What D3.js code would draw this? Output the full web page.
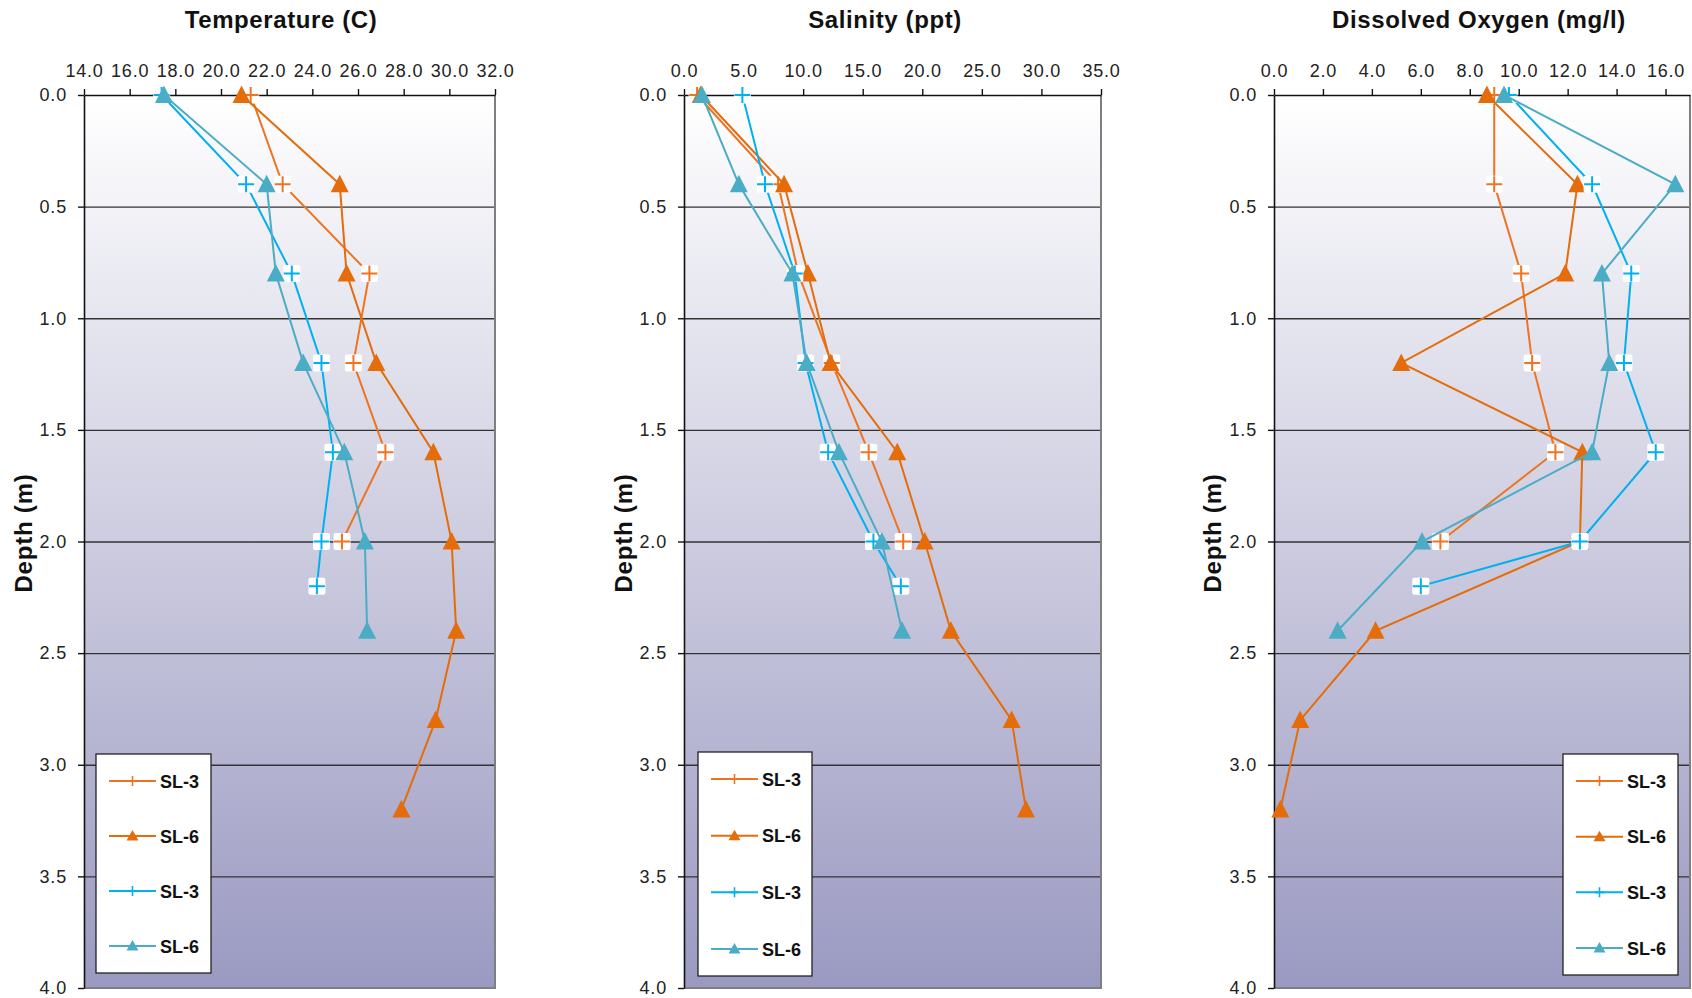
<!DOCTYPE html>
<html>
<head>
<meta charset="utf-8">
<script src="https://cdn.jsdelivr.net/npm/d3@7"></script>
<style>
  body { margin: 0; background: #fff; }
  svg { display: block; font-family: "Liberation Sans", Arial, sans-serif; }
</style>
</head>
<body>
<div id="chart"></div>
<script>
// depths (m) sampled for each station / run
const depthSL3a = [0, 0.4, 0.8, 1.2, 1.6, 2.0];
const depthSL6a = [0, 0.4, 0.8, 1.2, 1.6, 2.0, 2.4, 2.8, 3.2];
const depthSL3b = [0, 0.4, 0.8, 1.2, 1.6, 2.0, 2.2];
const depthSL6b = [0, 0.4, 0.8, 1.2, 1.6, 2.0, 2.4];

// Temperature (C)
const tempSL3a = [21.3, 22.7, 26.5, 25.8, 27.2, 25.3];
const tempSL6a = [20.9, 25.2, 25.5, 26.8, 29.3, 30.1, 30.3, 29.4, 27.9];
const tempSL3b = [17.4, 21.1, 23.1, 24.4, 24.9, 24.4, 24.2];
const tempSL6b = [17.5, 22.0, 22.4, 23.6, 25.4, 26.3, 26.4];

// Salinity (ppt)
const salSL3a = [1.1, 7.9, 9.6, 12.4, 15.5, 18.4];
const salSL6a = [1.4, 8.4, 10.4, 12.3, 17.9, 20.2, 22.4, 27.5, 28.7];
const salSL3b = [4.9, 6.8, 9.3, 10.2, 12.1, 15.9, 18.2];
const salSL6b = [1.5, 4.6, 9.1, 10.3, 13.0, 16.6, 18.3];

// Dissolved oxygen (mg/l)
const doSL3a = [9.0, 9.0, 10.1, 10.55, 11.5, 6.8];
const doSL6a = [8.7, 12.4, 11.9, 5.2, 12.6, 12.5, 4.15, 1.07, 0.26];
const doSL3b = [9.6, 13.0, 14.6, 14.3, 15.6, 12.5, 6.0];
const doSL6b = [9.4, 16.4, 13.4, 13.7, 13.0, 6.05, 2.6];

const seriesNames = ["SL-3", "SL-6", "SL-3", "SL-6"];
const seriesColors = ["#EE7322", "#E46C0A", "#00B0F0", "#4BACC6"];
const seriesMarkers = ["plus", "tri", "plus", "tri"];
const seriesDepths = [depthSL3a, depthSL6a, depthSL3b, depthSL6b];

const depthTicks = d3.range(0, 4.01, 0.5);

const panels = [
    {title: "Temperature (C)", values: [tempSL3a, tempSL6a, tempSL3b, tempSL6b],
     domain: [14, 32], ticks: d3.range(14, 32.1, 2), x0: 84, x1: 495, titleX: 281, labelX: 25,
     legend: {x: 96, y: 754, w: 115, h: 219}},
    {title: "Salinity (ppt)", values: [salSL3a, salSL6a, salSL3b, salSL6b],
     domain: [0, 35], ticks: d3.range(0, 35.1, 5), x0: 684, x1: 1101, titleX: 885, labelX: 625,
     legend: {x: 698, y: 752, w: 114, h: 224}},
    {title: "Dissolved Oxygen (mg/l)", values: [doSL3a, doSL6a, doSL3b, doSL6b],
     domain: [0, 17], ticks: d3.range(0, 16.1, 2), x0: 1274, x1: 1690, titleX: 1479, labelX: 1214,
     legend: {x: 1563, y: 754, w: 115, h: 221}}
];

const W = 1692, H = 998;
const plotTop = 95, plotBottom = 988;

const svg = d3.select("#chart").append("svg")
    .attr("width", W).attr("height", H);

const defs = svg.append("defs");
const grad = defs.append("linearGradient")
    .attr("id", "bg").attr("x1", 0).attr("y1", 0).attr("x2", 0).attr("y2", 1);
grad.append("stop").attr("offset", "0%").attr("stop-color", "#ffffff");
grad.append("stop").attr("offset", "100%").attr("stop-color", "#9A99C1");

const y = d3.scaleLinear().domain([0, 4]).range([plotTop, plotBottom]);

function drawMarker(g, type, color, cx, cy, big) {
    if (type === "plus") {
        let s = big ? 8 : 5;
        if (big) {
            g.append("rect")
                .attr("x", cx - 8.5).attr("y", cy - 8.5)
                .attr("width", 17).attr("height", 17).attr("rx", 2)
                .attr("fill", "#fff");
        }
        g.append("path")
            .attr("d", `M${cx - s},${cy}H${cx + s}M${cx},${cy - s}V${cy + s}`)
            .attr("stroke", color).attr("stroke-width", big ? 2 : 1.6).attr("fill", "none");
    } else {
        let hw = big ? 9 : 6, up = big ? 9.5 : 6, dn = big ? 8 : 4.5;
        g.append("path")
            .attr("d", `M${cx},${cy - up}L${cx + hw},${cy + dn}L${cx - hw},${cy + dn}Z`)
            .attr("fill", color);
    }
}

panels.forEach(p => {
    let g = svg.append("g");
    let x = d3.scaleLinear().domain(p.domain).range([p.x0, p.x1]);
    let w = p.x1 - p.x0;

    // plot area background
    g.append("rect")
        .attr("x", p.x0).attr("y", plotTop)
        .attr("width", w).attr("height", plotBottom - plotTop)
        .attr("fill", "url(#bg)");

    // gridlines
    let grid = g.append("g")
        .attr("transform", `translate(${p.x0},0)`)
        .call(d3.axisLeft(y).tickValues(depthTicks.filter(d => d > 0 && d < 4))
            .tickSize(-w).tickFormat(""));
    grid.select(".domain").remove();
    grid.selectAll("line").attr("stroke", "#333").attr("stroke-width", 1.4);

    // right and bottom frame
    g.append("path")
        .attr("d", `M${p.x1},${plotTop}V${plotBottom}H${p.x0}`)
        .attr("fill", "none").attr("stroke", "#7f7f7f").attr("stroke-width", 2);

    // axes
    let xAxis = g.append("g")
        .attr("transform", `translate(0,${plotTop})`)
        .call(d3.axisTop(x).tickValues(p.ticks).tickFormat(d3.format(".1f"))
            .tickSize(6).tickSizeOuter(0).tickPadding(12));
    let yAxis = g.append("g")
        .attr("transform", `translate(${p.x0},0)`)
        .call(d3.axisLeft(y).tickValues(depthTicks).tickFormat(d3.format(".1f"))
            .tickSize(6).tickSizeOuter(0).tickPadding(11));
    [xAxis, yAxis].forEach(a => {
        a.select(".domain").attr("stroke", "#111").attr("stroke-width", 1.6);
        a.selectAll(".tick line").attr("stroke", "#111").attr("stroke-width", 1.4);
        a.selectAll("text").attr("font-size", 18).attr("fill", "#222")
            .attr("letter-spacing", 0.8)
            .attr("font-family", "Liberation Sans, Arial, sans-serif");
    });

    // series
    p.values.forEach((vals, i) => {
        let pts = vals.map((v, j) => [x(v), y(seriesDepths[i][j])]);
        let sg = g.append("g");
        sg.append("path")
            .attr("d", d3.line()(pts))
            .attr("fill", "none")
            .attr("stroke", seriesColors[i])
            .attr("stroke-width", 2);
        pts.forEach(pt => drawMarker(sg, seriesMarkers[i], seriesColors[i], pt[0], pt[1], true));
    });

    // title
    svg.append("text")
        .attr("x", p.titleX).attr("y", 28)
        .attr("text-anchor", "middle")
        .attr("font-size", 24).attr("font-weight", "bold")
        .attr("letter-spacing", 0.6)
        .attr("fill", "#111")
        .text(p.title);

    // y label
    svg.append("text")
        .attr("transform", `translate(${p.labelX + 7},533) rotate(-90)`)
        .attr("text-anchor", "middle")
        .attr("font-size", 24).attr("font-weight", "bold")
        .attr("letter-spacing", 0.8)
        .attr("fill", "#111")
        .text("Depth (m)");

    // legend
    let L = p.legend;
    let lg = svg.append("g");
    lg.append("rect")
        .attr("x", L.x).attr("y", L.y).attr("width", L.w).attr("height", L.h)
        .attr("fill", "#fff").attr("stroke", "#222").attr("stroke-width", 1.3);
    let step = (L.h - 54) / 3;
    seriesNames.forEach((name, i) => {
        let ly = L.y + 27 + i * step;
        lg.append("line")
            .attr("x1", L.x + 13).attr("x2", L.x + 60)
            .attr("y1", ly).attr("y2", ly)
            .attr("stroke", seriesColors[i]).attr("stroke-width", 2);
        drawMarker(lg, seriesMarkers[i], seriesColors[i], L.x + 36.5, ly, false);
        lg.append("text")
            .attr("x", L.x + 64).attr("y", ly + 6.5)
            .attr("font-size", 18).attr("font-weight", "bold")
            .attr("fill", "#111")
            .text(name);
    });
});
</script>
</body>
</html>
